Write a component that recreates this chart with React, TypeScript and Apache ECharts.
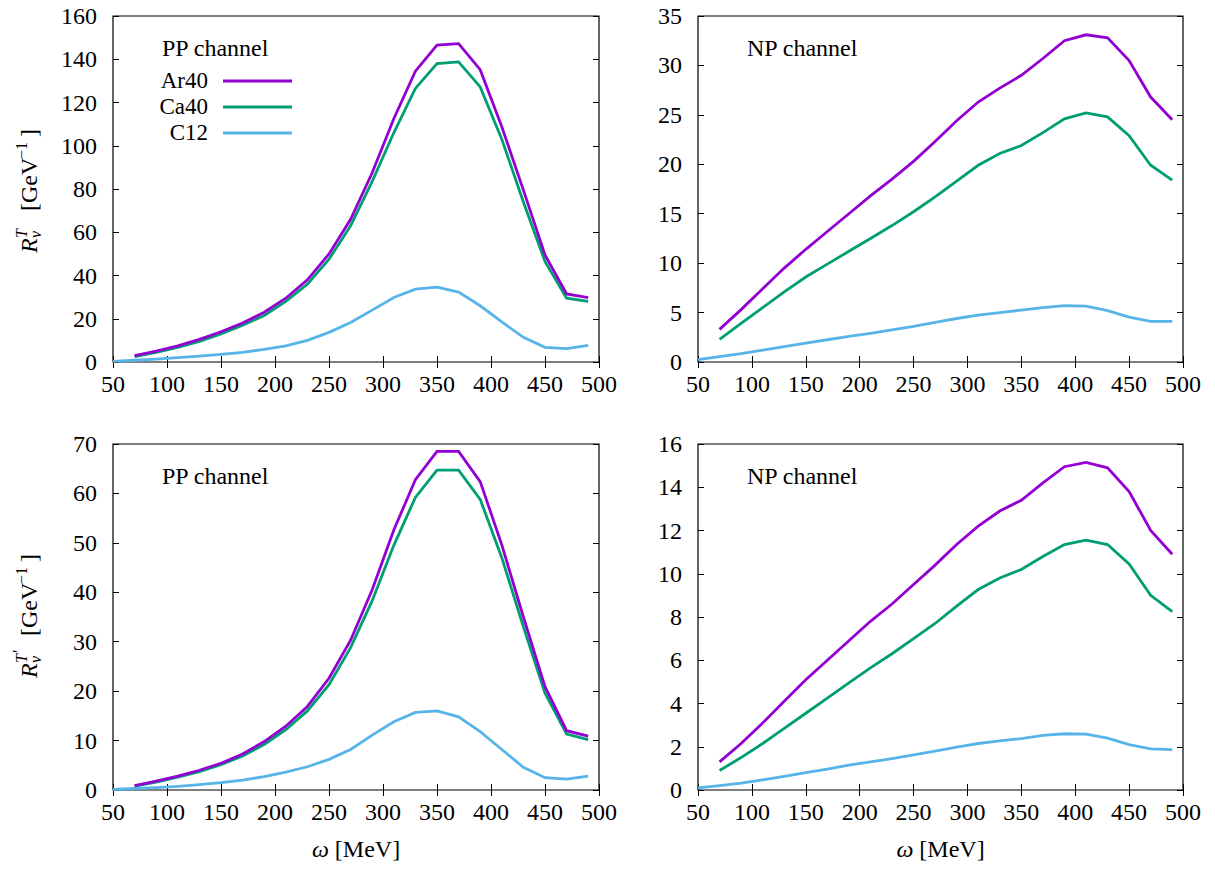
import React, { useEffect, useRef } from "react";
import * as echarts from "echarts";

// Energy transfer grids (MeV)
const OMEGA_C12 = [50, 70, 90, 110, 130, 150, 170, 190, 210, 230, 250, 270, 290, 310, 330, 350, 370, 390, 410, 430, 450, 470, 490];
const OMEGA_AR_CA = [70, 90, 110, 130, 150, 170, 190, 210, 230, 250, 270, 290, 310, 330, 350, 370, 390, 410, 430, 450, 470, 490];

// R^T, PP channel
const RT_PP_AR40 = [3, 5, 7.5, 10.5, 14, 18, 23, 29.5, 38, 50, 66, 87.5, 112.5, 134.5, 146.5, 147.2, 135.2, 108.8, 79.5, 49.5, 31.5, 29.8];
const RT_PP_CA40 = [2.5, 4.5, 6.8, 9.5, 13, 17, 21.5, 28, 36, 47.5, 63, 83.5, 106, 126.5, 138, 138.8, 127.2, 103, 74, 46.5, 29.5, 28];
const RT_PP_C12 = [0.3, 0.8, 1.3, 2, 2.7, 3.5, 4.5, 5.8, 7.5, 10, 13.7, 18.3, 24, 29.8, 33.7, 34.6, 32.3, 26, 18.5, 11.4, 6.8, 6.2, 7.7];

// R^T, NP channel
const RT_NP_AR40 = [3.3, 5.3, 7.4, 9.5, 11.4, 13.2, 15, 16.8, 18.5, 20.3, 22.3, 24.4, 26.3, 27.7, 29, 30.7, 32.5, 33.1, 32.8, 30.5, 26.8, 24.5];
const RT_NP_CA40 = [2.3, 3.9, 5.5, 7.1, 8.6, 9.9, 11.2, 12.5, 13.8, 15.2, 16.7, 18.3, 19.9, 21.1, 21.9, 23.2, 24.6, 25.2, 24.8, 22.9, 19.9, 18.4];
const RT_NP_C12 = [0.25, 0.55, 0.85, 1.2, 1.55, 1.9, 2.25, 2.6, 2.9, 3.25, 3.6, 4, 4.4, 4.75, 5, 5.25, 5.5, 5.7, 5.65, 5.2, 4.55, 4.1, 4.1];

// R^T', PP channel
const RTP_PP_AR40 = [0.9, 1.8, 2.8, 4, 5.4, 7.3, 9.8, 12.9, 16.9, 22.6, 30.3, 40.5, 52.6, 62.8, 68.5, 68.5, 62.4, 49.6, 35, 20.9, 12, 10.9];
const RTP_PP_CA40 = [0.8, 1.6, 2.6, 3.7, 5.1, 6.9, 9.2, 12.2, 16, 21.3, 28.8, 38.3, 49.5, 59.2, 64.7, 64.7, 58.8, 47, 33, 19.6, 11.3, 10.2];
const RTP_PP_C12 = [0.1, 0.3, 0.5, 0.75, 1.1, 1.5, 2, 2.7, 3.6, 4.7, 6.2, 8.2, 11.1, 13.8, 15.7, 16, 14.8, 11.8, 8.2, 4.6, 2.5, 2.2, 2.8];

// R^T', NP channel
const RTP_NP_AR40 = [1.3, 2.15, 3.1, 4.1, 5.1, 6, 6.9, 7.8, 8.6, 9.5, 10.4, 11.35, 12.2, 12.9, 13.4, 14.2, 14.95, 15.15, 14.9, 13.8, 12, 10.9];
const RTP_NP_CA40 = [0.9, 1.5, 2.15, 2.85, 3.55, 4.25, 4.95, 5.65, 6.3, 7, 7.7, 8.5, 9.27, 9.8, 10.2, 10.8, 11.35, 11.55, 11.35, 10.45, 9, 8.25];
const RTP_NP_C12 = [0.1, 0.2, 0.32, 0.47, 0.63, 0.8, 0.97, 1.15, 1.3, 1.45, 1.62, 1.8, 1.98, 2.15, 2.27, 2.38, 2.53, 2.6, 2.58, 2.4, 2.1, 1.9, 1.87];

const NUCLEI = ["Ar40", "Ca40", "C12"];
const COLORS = ["#9400d3", "#009e73", "#56b4e9"];

const PANEL_Y_MAX = [160, 35, 70, 16];
const PANEL_Y_STEP = [20, 5, 10, 2];
const PANEL_TITLES = ["PP channel", "NP channel", "PP channel", "NP channel"];
const PANEL_DATA = [
  [RT_PP_AR40, RT_PP_CA40, RT_PP_C12],
  [RT_NP_AR40, RT_NP_CA40, RT_NP_C12],
  [RTP_PP_AR40, RTP_PP_CA40, RTP_PP_C12],
  [RTP_NP_AR40, RTP_NP_CA40, RTP_NP_C12],
];

const FONT = "Liberation Serif";
const FS = 24;

const GRIDS = [
  { left: 113, top: 16, width: 486, height: 346 },
  { left: 698, top: 16, width: 485, height: 346 },
  { left: 113, top: 444, width: 486, height: 346 },
  { left: 698, top: 444, width: 485, height: 346 },
];

function pairs(xs: number[], ys: number[]) {
  return ys.map((v, i) => [xs[i], v]);
}

// rotated y-axis title: R with stacked super/subscript, then the unit
function yLabelGroup(x: number, y: number, primed: boolean) {
  const base = { fill: "#000", fontFamily: FONT, verticalAlign: "middle" as const };
  const children: any[] = [
    { type: "text", x: 0, y: 0, style: { ...base, text: "R", fontSize: FS, fontStyle: "italic" } },
    { type: "text", x: 15, y: -8, style: { ...base, text: "T", fontSize: 16, fontStyle: "italic" } },
    { type: "text", x: 15, y: 6, style: { ...base, text: "ν", fontSize: 16, fontStyle: "italic" } },
    { type: "text", x: 42, y: 0, style: { ...base, text: "[GeV", fontSize: FS } },
    { type: "text", x: 94, y: -8, style: { ...base, text: "−1", fontSize: 16 } },
    { type: "text", x: 116, y: 0, style: { ...base, text: "]", fontSize: FS } },
  ];
  if (primed) {
    children.push({ type: "text", x: 25, y: -11, style: { ...base, text: "′", fontSize: 17 } });
  }
  return { type: "group", x, y, rotation: Math.PI / 2, children };
}

export default function App() {
  const ref = useRef<HTMLDivElement>(null);

  useEffect(() => {
    document.body.style.margin = "0";
    if (!ref.current) return;
    const chart = echarts.init(ref.current, undefined, { renderer: "svg" });

    const xAxis: any[] = [];
    const yAxis: any[] = [];
    const series: any[] = [];
    const graphic: any[] = [];
    const tick = { inside: true, length: 6, lineStyle: { color: "#000", width: 1 } };

    GRIDS.forEach((g, i) => {
      const bottomRow = i >= 2;
      xAxis.push({
        type: "value",
        gridIndex: i,
        position: "bottom",
        min: 50,
        max: 500,
        interval: 50,
        axisLine: { show: false },
        axisTick: tick,
        axisLabel: { color: "#000", fontFamily: FONT, fontSize: FS, margin: 10 },
        splitLine: { show: false },
        name: bottomRow ? "{i|ω} [MeV]" : "",
        nameLocation: "middle",
        nameGap: 47,
        nameTextStyle: {
          color: "#000",
          fontFamily: FONT,
          fontSize: FS,
          rich: { i: { fontStyle: "italic", fontFamily: FONT, fontSize: FS, color: "#000" } },
        },
      });
      xAxis.push({
        type: "value",
        gridIndex: i,
        position: "top",
        min: 50,
        max: 500,
        interval: 50,
        axisLine: { show: false },
        axisTick: tick,
        axisLabel: { show: false },
        splitLine: { show: false },
      });
      yAxis.push({
        type: "value",
        gridIndex: i,
        position: "left",
        min: 0,
        max: PANEL_Y_MAX[i],
        interval: PANEL_Y_STEP[i],
        axisLine: { show: false },
        axisTick: tick,
        axisLabel: { color: "#000", fontFamily: FONT, fontSize: FS, margin: 16 },
        splitLine: { show: false },
      });
      yAxis.push({
        type: "value",
        gridIndex: i,
        position: "right",
        min: 0,
        max: PANEL_Y_MAX[i],
        interval: PANEL_Y_STEP[i],
        axisLine: { show: false },
        axisTick: tick,
        axisLabel: { show: false },
        splitLine: { show: false },
      });

      PANEL_DATA[i].forEach((ys, k) => {
        series.push({
          name: NUCLEI[k],
          type: "line",
          xAxisIndex: 2 * i,
          yAxisIndex: 2 * i,
          data: pairs(k === 2 ? OMEGA_C12 : OMEGA_AR_CA, ys),
          showSymbol: false,
          symbol: "none",
          lineStyle: { color: COLORS[k], width: 2.8, join: "miter" },
          z: 3 - k,
        });
      });

      graphic.push({
        type: "text",
        x: g.left + 49,
        y: g.top + 32,
        style: {
          text: PANEL_TITLES[i],
          fill: "#000",
          fontFamily: FONT,
          fontSize: FS,
          verticalAlign: "middle",
        },
      });
    });

    // key in the first panel
    const keyY = [80, 106, 132];
    NUCLEI.forEach((n, k) => {
      graphic.push({
        type: "text",
        x: 208,
        y: keyY[k],
        style: {
          text: n,
          fill: "#000",
          fontFamily: FONT,
          fontSize: 23,
          lineHeight: 23,
          align: "right",
          verticalAlign: "middle",
        },
      });
      graphic.push({
        type: "line",
        shape: { x1: 223, y1: keyY[k] + 1, x2: 292, y2: keyY[k] + 1 },
        style: { stroke: COLORS[k], lineWidth: 2.8 },
      });
    });

    graphic.push(yLabelGroup(29, 253, false));
    graphic.push(yLabelGroup(29, 678, true));

    chart.setOption({
      animation: false,
      backgroundColor: "#fff",
      grid: GRIDS.map((g) => ({ ...g, show: true, borderColor: "#000", borderWidth: 1.2, containLabel: false })),
      xAxis,
      yAxis,
      series,
      graphic,
    });

    return () => chart.dispose();
  }, []);

  return <div ref={ref} style={{ width: 1215, height: 873 }} />;
}
